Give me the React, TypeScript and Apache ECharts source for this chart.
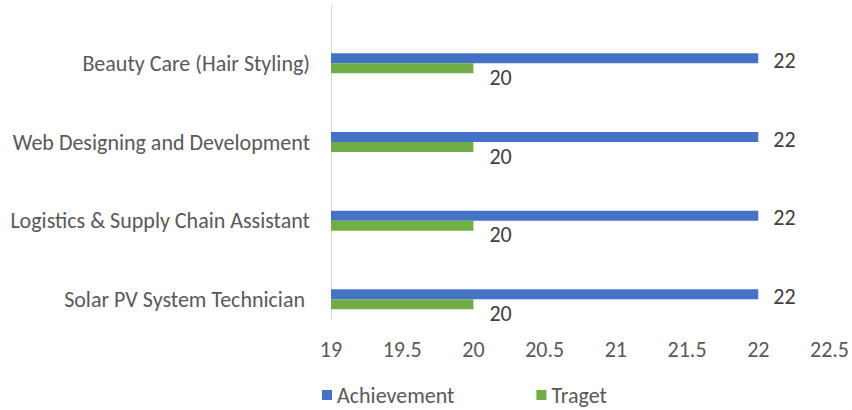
import React, { useEffect, useRef } from "react";
import * as echarts from "echarts";

const categories = [
  "Solar PV System Technician ",
  "Logistics & Supply Chain Assistant",
  "Web Designing and Development",
  "Beauty Care (Hair Styling)",
];
const achievement = [22, 22, 22, 22];
const target = [20, 20, 20, 20];
const xMin = 19;
const xMax = 22.5;
const xInterval = 0.5;

const FONT = 'Carlito, "Noto Sans", sans-serif';
const GREY = "#595959";
const FS = 22;

export default function App() {
  const ref = useRef<HTMLDivElement>(null);
  useEffect(() => {
    if (!ref.current) return;
    const chart = echarts.init(ref.current, undefined, { renderer: "svg" });
    chart.setOption({
      animation: false,
      textStyle: { fontFamily: FONT },
      grid: { left: 331, right: 20, top: 24, height: 314.7, containLabel: false },
      legend: {
        top: 384,
        left: 322,
        padding: 0,
        itemWidth: 10,
        itemHeight: 10,
        itemGap: 82,
        icon: "rect",
        textStyle: { fontFamily: FONT, fontSize: FS, color: GREY },
        data: ["Achievement", "Traget"],
      },
      xAxis: {
        type: "value",
        min: xMin,
        max: xMax,
        interval: xInterval,
        axisLine: { show: false },
        axisTick: { show: false },
        splitLine: { show: false },
        axisLabel: { fontFamily: FONT, fontSize: FS, color: GREY, margin: 0 },
      },
      yAxis: {
        type: "category",
        data: categories,
        axisLine: { show: false },
        axisTick: { show: false },
        axisLabel: { fontFamily: FONT, fontSize: FS, color: GREY, margin: 21 },
      },
      graphic: [
        {
          type: "line",
          shape: { x1: 331.5, y1: 5, x2: 331.5, y2: 319 },
          style: { stroke: "#d9d9d9", lineWidth: 1 },
        },
      ],
      series: [
        {
          name: "Achievement",
          type: "bar",
          data: achievement,
          barWidth: 10,
          barGap: "0%",
          itemStyle: { color: "#4472C4" },
          label: {
            show: true,
            position: "right",
            distance: 15,
            offset: [0, 2],
            fontFamily: FONT,
            fontSize: FS,
            color: "#404040",
          },
        },
        {
          name: "Traget",
          type: "bar",
          data: target,
          barWidth: 10,
          barGap: "0%",
          itemStyle: { color: "#70AD47" },
          label: {
            show: true,
            position: "right",
            distance: 16,
            offset: [0, 9],
            fontFamily: FONT,
            fontSize: FS,
            color: "#404040",
          },
        },
      ],
    });
    return () => chart.dispose();
  }, []);
  return (
    <div
      ref={ref}
      style={{ position: "absolute", left: 0, top: 0, width: 852, height: 410 }}
    />
  );
}
